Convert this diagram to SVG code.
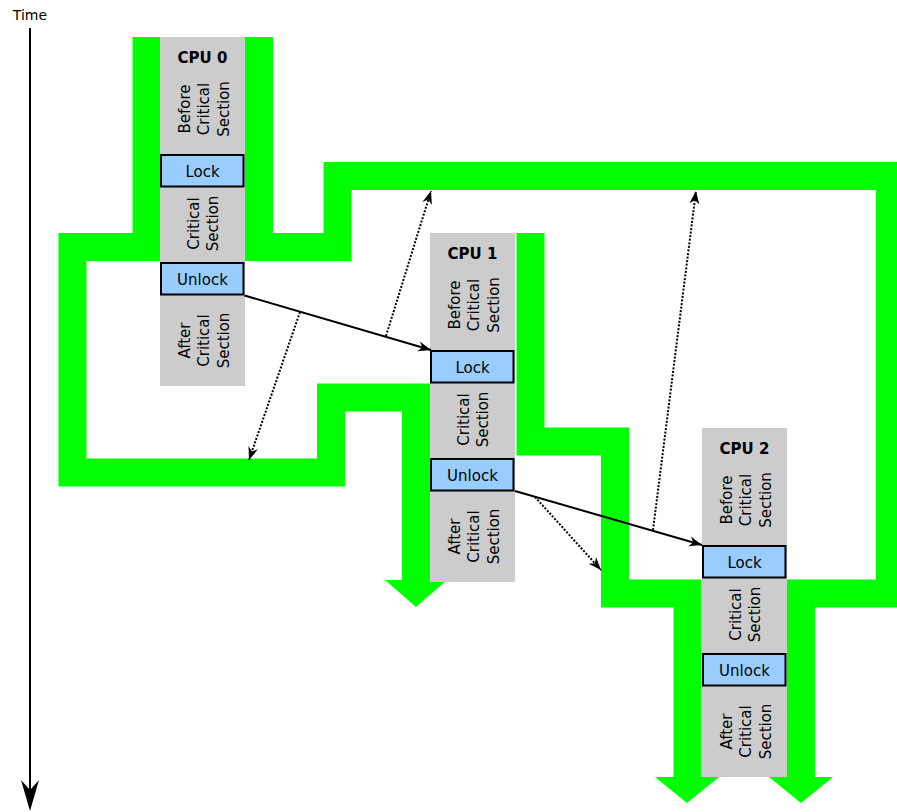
<svg xmlns="http://www.w3.org/2000/svg" width="897" height="812" viewBox="0 0 897 812">
<style>
text{font-family:"DejaVu Sans","Liberation Sans",sans-serif;fill:#000}
.lbl{font-size:15px;text-anchor:middle}
.cpu{font-size:15px;font-weight:bold;text-anchor:middle}
.time{font-size:14px;text-anchor:middle}
.sec{fill:#cccccc}
.box{fill:#99ccff;stroke:#000;stroke-width:2}
.flow{fill:none;stroke:#00ff00;stroke-width:28;stroke-linejoin:miter;stroke-linecap:butt}
.head{fill:#00ff00}
.solid{fill:none;stroke:#000;stroke-width:2;marker-end:url(#arr)}
.dot{fill:none;stroke:#000;stroke-width:2;stroke-dasharray:2,1.6;marker-end:url(#arr)}
</style>
<defs>
<marker id="arr" markerUnits="userSpaceOnUse" markerWidth="15" markerHeight="11" refX="13" refY="5.5" orient="auto">
<path d="M13,5.5 L0,0.5 L4,5.5 L0,10.5 Z" fill="#000"/>
</marker>
</defs>
<g id="time-axis">
<text class="time" x="30" y="20">Time</text>
<line x1="30" y1="28" x2="30" y2="792" stroke="#000" stroke-width="2"/>
<path d="M30,811 L21,780 L30,790 L39,780 Z" fill="#000"/>
</g>
<g id="flows">
<path class="flow" d="M146.5,37 V247 H72.5 V472.5 H331 V397.5 H416 V580"/>
<polygon class="head" points="385,580 447,580 416,607"/>
<path class="flow" d="M259,37 V247 H337.5 V176 H890 V593.5 H801 V777"/>
<polygon class="head" points="769,777 833,777 801,803"/>
<path class="flow" d="M530.5,233 V441.5 H615 V593.5 H687.5 V777"/>
<polygon class="head" points="655,777 719,777 687,803"/>
</g>
<g id="cpu0" transform="translate(160,37)">
<rect class="sec" x="0" y="0" width="85" height="349"/>
<text class="cpu" x="42.5" y="26">CPU 0</text>
<text class="lbl" transform="translate(0,72) rotate(-90)"><tspan x="0" y="29.5">Before</tspan><tspan x="0" y="49">Critical</tspan><tspan x="0" y="68.5">Section</tspan></text>
<rect class="box" x="1" y="118" width="82.5" height="31.5"/>
<text class="lbl" x="42.5" y="140">Lock</text>
<text class="lbl" transform="translate(0,186.5) rotate(-90)"><tspan x="0" y="38.5">Critical</tspan><tspan x="0" y="58">Section</tspan></text>
<rect class="box" x="1" y="226" width="82.5" height="31.5"/>
<text class="lbl" x="42.5" y="248">Unlock</text>
<text class="lbl" transform="translate(0,303.5) rotate(-90)"><tspan x="0" y="29.5">After</tspan><tspan x="0" y="49">Critical</tspan><tspan x="0" y="68.5">Section</tspan></text>
</g>
<g id="cpu1" transform="translate(430,233)">
<rect class="sec" x="0" y="0" width="85" height="349"/>
<text class="cpu" x="42.5" y="26">CPU 1</text>
<text class="lbl" transform="translate(0,72) rotate(-90)"><tspan x="0" y="29.5">Before</tspan><tspan x="0" y="49">Critical</tspan><tspan x="0" y="68.5">Section</tspan></text>
<rect class="box" x="1" y="118" width="82.5" height="31.5"/>
<text class="lbl" x="42.5" y="140">Lock</text>
<text class="lbl" transform="translate(0,186.5) rotate(-90)"><tspan x="0" y="38.5">Critical</tspan><tspan x="0" y="58">Section</tspan></text>
<rect class="box" x="1" y="226" width="82.5" height="31.5"/>
<text class="lbl" x="42.5" y="248">Unlock</text>
<text class="lbl" transform="translate(0,303.5) rotate(-90)"><tspan x="0" y="29.5">After</tspan><tspan x="0" y="49">Critical</tspan><tspan x="0" y="68.5">Section</tspan></text>
</g>
<g id="cpu2" transform="translate(702,428)">
<rect class="sec" x="0" y="0" width="85" height="349"/>
<text class="cpu" x="42.5" y="26">CPU 2</text>
<text class="lbl" transform="translate(0,72) rotate(-90)"><tspan x="0" y="29.5">Before</tspan><tspan x="0" y="49">Critical</tspan><tspan x="0" y="68.5">Section</tspan></text>
<rect class="box" x="1" y="118" width="82.5" height="31.5"/>
<text class="lbl" x="42.5" y="140">Lock</text>
<text class="lbl" transform="translate(0,186.5) rotate(-90)"><tspan x="0" y="38.5">Critical</tspan><tspan x="0" y="58">Section</tspan></text>
<rect class="box" x="1" y="226" width="82.5" height="31.5"/>
<text class="lbl" x="42.5" y="248">Unlock</text>
<text class="lbl" transform="translate(0,303.5) rotate(-90)"><tspan x="0" y="29.5">After</tspan><tspan x="0" y="49">Critical</tspan><tspan x="0" y="68.5">Section</tspan></text>
</g>
<g id="connectors">
<line class="solid" x1="244.5" y1="295.5" x2="431" y2="350"/>
<line class="dot" x1="300" y1="312" x2="249" y2="460"/>
<line class="dot" x1="386" y1="336" x2="431" y2="191"/>
<line class="solid" x1="515" y1="491" x2="702" y2="545"/>
<line class="dot" x1="535" y1="497" x2="601" y2="570"/>
<line class="dot" x1="653" y1="530" x2="696" y2="191"/>
</g>
</svg>
